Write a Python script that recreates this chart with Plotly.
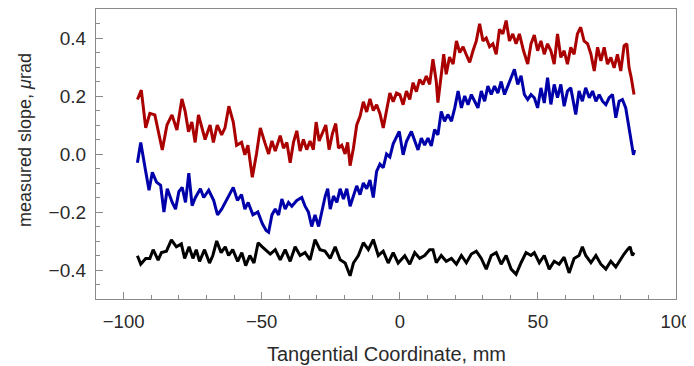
import plotly.graph_objects as go

# ---- data ----
x_red = [-95.0, -93.6, -92.0, -90.5, -88.7, -86.0, -84.3, -82.5, -80.7, -78.9, -77.7, -76.5, -75.3, -74.1,
         -72.9, -71.7, -70.5, -68.7, -67.5, -66.1, -64.5, -63.3, -61.9, -60.3, -59.1, -57.3, -56.1, -55.0,
         -53.4, -51.9, -50.5, -48.9, -47.5, -46.3, -45.1, -43.3, -42.1, -40.9, -39.7, -38.5, -37.3, -36.1,
         -34.9, -33.7, -32.5, -31.3, -30.3, -29.2, -28.0, -26.8, -25.6, -24.4, -23.2, -22.2, -21.0, -19.8,
         -18.9, -18.0, -16.8, -15.6, -14.4, -13.2, -12.0, -10.8, -9.6, -8.4, -7.2, -6.0, -4.8, -3.6, -2.4,
         -1.2, 0.0, 1.2, 2.4, 3.6, 4.8, 6.0, 7.2, 8.4, 9.6, 10.8, 12.0, 13.2, 13.8, 15.0, 15.9, 16.8, 18.0,
         19.3, 20.5, 21.7, 22.9, 24.0, 25.3, 26.5, 27.7, 28.9, 30.1, 31.3, 32.5, 33.7, 34.9, 36.1, 37.3,
         38.5, 39.7, 40.9, 42.1, 43.3, 44.8, 46.3, 47.5, 48.7, 49.9, 51.1, 52.3, 53.5, 54.7, 55.9, 57.1,
         58.3, 59.5, 60.7, 61.9, 63.1, 64.3, 65.5, 66.7, 68.0, 69.2, 70.4, 71.6, 72.8, 74.0, 75.2, 76.4,
         77.6, 78.8, 80.0, 81.2, 82.2, 83.0, 83.8, 84.8]
y_red = [0.188, 0.22, 0.09, 0.14, 0.135, 0.014, 0.10, 0.135, 0.083, 0.19, 0.146, 0.077, 0.11, 0.04,
         0.135, 0.09, 0.05, 0.10, 0.04, 0.10, 0.066, 0.09, 0.165, 0.11, 0.03, 0.04, -0.003, 0.03,
         -0.08, 0.0, 0.09, 0.04, 0.0, 0.045, 0.01, 0.063, 0.02, 0.04, -0.03, 0.04, 0.08, 0.01,
         0.05, 0.015, 0.045, 0.015, 0.11, 0.045, 0.075, 0.10, 0.015, 0.07, 0.105, 0.02, 0.03, 0.0,
         0.04, -0.04, 0.02, 0.10, 0.13, 0.18, 0.145, 0.19, 0.15, 0.17, 0.14, 0.09, 0.15, 0.21, 0.18,
         0.21, 0.205, 0.17, 0.217, 0.188, 0.246, 0.215, 0.257, 0.24, 0.269, 0.24, 0.327, 0.25, 0.177, 0.264,
         0.344, 0.275, 0.334, 0.31, 0.39, 0.35, 0.37, 0.344, 0.316, 0.356, 0.39, 0.449, 0.39, 0.40, 0.37,
         0.38, 0.344, 0.43, 0.414, 0.46, 0.39, 0.414, 0.38, 0.414, 0.356, 0.31, 0.38, 0.41, 0.356, 0.39,
         0.344, 0.38, 0.356, 0.31, 0.414, 0.333, 0.356, 0.31, 0.368, 0.344, 0.414, 0.437, 0.39, 0.38,
         0.344, 0.286, 0.368, 0.321, 0.368, 0.31, 0.333, 0.297, 0.344, 0.286, 0.373, 0.38, 0.298, 0.263,
         0.205]

x_blue = [-95.0, -93.8, -92.0, -90.8, -89.6, -88.1, -86.6, -85.4, -84.2, -82.4, -81.2, -80.0, -78.8, -77.6,
          -76.4, -75.2, -74.0, -72.2, -71.0, -69.2, -67.4, -66.0, -64.5, -62.7, -61.5, -60.3, -58.8, -57.3,
          -56.1, -54.9, -53.2, -51.4, -49.8, -48.4, -47.5, -46.3, -45.1, -43.9, -42.7, -41.5, -40.3, -39.1,
          -37.3, -35.5, -34.3, -33.1, -31.9, -30.7, -29.4, -28.2, -27.0, -26.1, -25.2, -24.0, -22.8, -21.6,
          -20.4, -19.2, -18.0, -16.8, -15.6, -14.4, -13.2, -12.0, -10.8, -9.6, -8.4, -7.2, -6.0, -4.8, -3.6,
          -2.4, -1.2, -0.2, 1.2, 2.4, 4.2, 5.4, 6.6, 7.8, 9.0, 10.2, 11.4, 12.6, 13.8, 15.0, 16.2, 17.4,
          18.7, 19.9, 21.1, 22.3, 23.5, 24.7, 25.9, 27.1, 28.3, 29.5, 30.7, 31.9, 33.1, 34.3, 35.5, 36.7,
          37.9, 39.1, 40.3, 41.5, 42.7, 43.9, 45.1, 46.3, 47.5, 48.7, 49.9, 51.1, 52.3, 53.5, 54.7, 55.9,
          57.1, 58.3, 59.5, 60.7, 61.9, 63.7, 64.9, 66.1, 67.3, 68.6, 69.8, 71.0, 72.2, 73.4, 74.6, 75.8,
          77.0, 78.2, 79.4, 80.6, 81.8, 82.4, 83.2, 83.8, 84.6, 85.0]
y_blue = [-0.03, 0.04, -0.06, -0.125, -0.063, -0.097, -0.108, -0.20, -0.12, -0.167, -0.19, -0.13, -0.115, -0.167,
          -0.066, -0.178, -0.15, -0.12, -0.15, -0.125, -0.16, -0.21, -0.19, -0.16, -0.14, -0.115, -0.16, -0.14,
          -0.19, -0.167, -0.21, -0.20, -0.24, -0.264, -0.27, -0.21, -0.19, -0.21, -0.155, -0.19, -0.167, -0.18,
          -0.16, -0.15, -0.18, -0.20, -0.25, -0.21, -0.25, -0.20, -0.145, -0.12, -0.19, -0.145, -0.167, -0.12,
          -0.155, -0.12, -0.18, -0.145, -0.11, -0.14, -0.10, -0.12, -0.09, -0.15, -0.06, -0.035, -0.047, 0.0, -0.01,
          0.035, 0.06, 0.078, -0.003, 0.043, 0.078, 0.043, 0.014, 0.055, 0.031, 0.055, 0.028, 0.084, 0.066, 0.147, 0.113, 0.136,
          0.113, 0.159, 0.217, 0.159, 0.20, 0.17, 0.205, 0.182, 0.159, 0.217, 0.182, 0.234, 0.205, 0.234, 0.21, 0.25,
          0.205, 0.234, 0.263, 0.292, 0.24, 0.27, 0.205, 0.188, 0.205, 0.194, 0.159, 0.228, 0.176, 0.263, 0.171, 0.24,
          0.194, 0.24, 0.165, 0.217, 0.228, 0.136, 0.217, 0.182, 0.228, 0.194, 0.217, 0.182, 0.205, 0.182, 0.17, 0.194,
          0.205, 0.125, 0.182, 0.188, 0.159, 0.125, 0.066, 0.031, -0.003, 0.014]

x_black = [-95.0, -93.8, -92.0, -90.5, -89.3, -87.5, -86.3, -84.5, -82.7, -80.9, -79.1, -77.9, -76.3, -74.9,
           -73.7, -72.5, -70.7, -68.9, -67.7, -66.3, -64.7, -63.2, -62.0, -60.5, -58.7, -57.2, -55.8, -54.3,
           -52.8, -51.3, -49.8, -48.0, -46.9, -45.1, -43.3, -41.5, -39.7, -37.9, -36.1, -34.3, -32.5, -30.7,
           -28.9, -27.1, -25.2, -23.4, -21.6, -19.8, -18.0, -16.8, -15.0, -13.2, -11.4, -9.6, -7.8, -6.0, -4.2,
           -2.4, -0.6, 1.8, 3.6, 5.4, 7.2, 9.0, 10.8, 12.0, 13.2, 15.0, 16.8, 18.7, 20.5, 22.3, 24.1, 25.9,
           27.7, 29.5, 31.3, 33.1, 34.9, 36.7, 38.5, 40.3, 42.1, 43.9, 45.7, 47.5, 48.7, 50.5, 52.3, 54.1,
           55.9, 57.7, 59.5, 61.3, 63.1, 64.9, 66.1, 67.3, 69.2, 71.0, 72.8, 74.6, 76.4, 78.2, 80.0, 81.2,
           82.4, 83.4, 84.2, 84.8]
y_black = [-0.351, -0.38, -0.36, -0.36, -0.33, -0.366, -0.34, -0.335, -0.296, -0.32, -0.31, -0.36, -0.32, -0.36,
           -0.33, -0.37, -0.33, -0.376, -0.35, -0.30, -0.34, -0.32, -0.35, -0.33, -0.37, -0.34, -0.385, -0.35,
           -0.376, -0.306, -0.32, -0.335, -0.345, -0.33, -0.365, -0.33, -0.37, -0.32, -0.35, -0.34, -0.365, -0.295,
           -0.33, -0.335, -0.36, -0.32, -0.365, -0.376, -0.42, -0.376, -0.35, -0.306, -0.33, -0.295, -0.35, -0.335, -0.376,
           -0.34, -0.376, -0.351, -0.38, -0.34, -0.36, -0.35, -0.33, -0.33, -0.375, -0.35, -0.37, -0.36, -0.38, -0.35, -0.375, -0.345,
           -0.335, -0.36, -0.397, -0.35, -0.34, -0.38, -0.35, -0.397, -0.415, -0.375, -0.34, -0.35, -0.34, -0.375, -0.35, -0.397,
           -0.37, -0.38, -0.356, -0.41, -0.36, -0.35, -0.32, -0.35, -0.375, -0.35, -0.38, -0.397, -0.37, -0.39, -0.36, -0.345,
           -0.33, -0.32, -0.35, -0.34]

x_title = "Tangential Coordinate, mm"
y_title = "measured slope, <i>μ</i>rad"

# ---- figure ----
FONT = "Liberation Sans, Arial, sans-serif"
TXT = "#2a2a2a"
FRAME = "#8a8a8a"

fig = go.Figure()
for xs, ys, col in [(x_red, y_red, "#aa0000"), (x_blue, y_blue, "#0000aa"), (x_black, y_black, "#000000")]:
    fig.add_trace(go.Scatter(x=xs, y=ys, mode="lines",
                             line=dict(color=col, width=3), showlegend=False))

axis_common = dict(showgrid=False, zeroline=False, showline=True, linecolor=FRAME, linewidth=1.3,
                   mirror=True, ticks="inside", tickcolor=FRAME, tickwidth=1, ticklen=7)

fig.update_xaxes(range=[-110, 100], dtick=50, tick0=0,
                 minor=dict(ticks="inside", dtick=10, tick0=0, ticklen=4, tickcolor=FRAME),
                 tickfont=dict(family=FONT, size=18.5, color=TXT),
                 ticklabelstandoff=6, **axis_common)
fig.update_yaxes(range=[-0.5, 0.5], dtick=0.2, tick0=0, tickformat=".1f",
                 minor=dict(ticks="inside", dtick=0.05, tick0=0, ticklen=4, tickcolor=FRAME),
                 tickfont=dict(family=FONT, size=19, color=TXT),
                 ticklabelstandoff=5, **axis_common)

# the page body adds an 8px offset, so the figure is sized to fit the 694x366 window
fig.update_layout(
    width=686, height=358,
    margin=dict(l=88, r=18, t=1, b=67, autoexpand=False),
    plot_bgcolor="white", paper_bgcolor="white",
    annotations=[
        dict(text=x_title, xref="paper", yref="paper", x=0.5, y=0, xanchor="center", yanchor="middle",
             yshift=-55, showarrow=False, font=dict(family=FONT, size=20, color=TXT)),
        dict(text=y_title, xref="paper", yref="paper", x=0, y=0.5, xanchor="center", yanchor="middle",
             xshift=-71, yshift=14, textangle=-90, showarrow=False,
             font=dict(family=FONT, size=18, color=TXT)),
    ],
)

fig.write_html("out.html")
